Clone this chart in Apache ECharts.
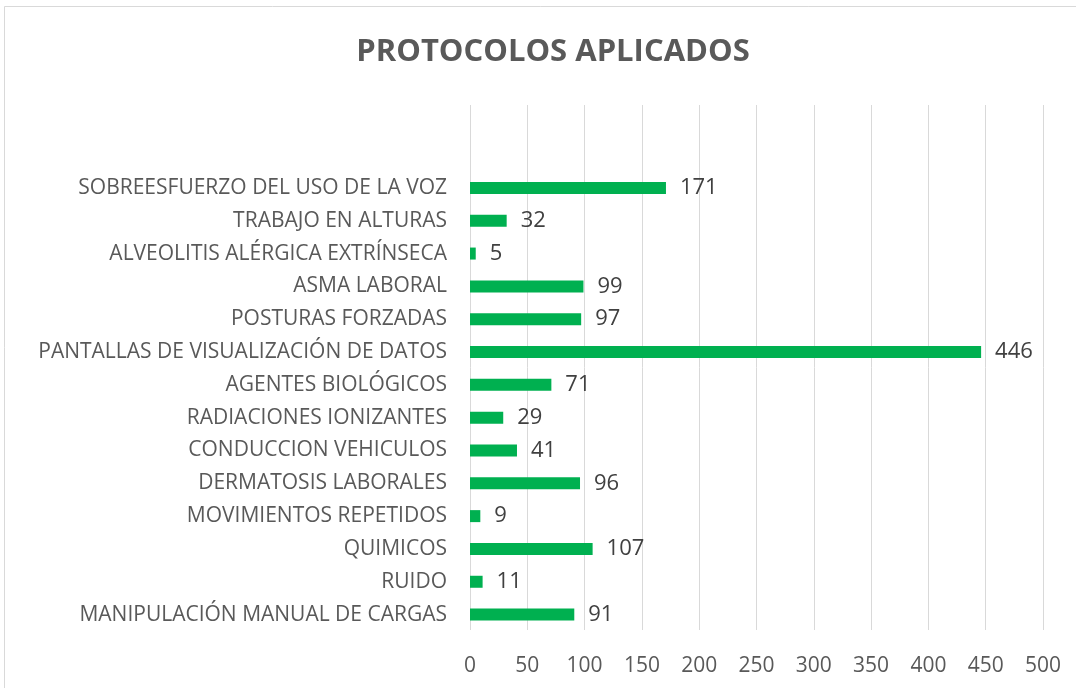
<!DOCTYPE html>
<html>
<head>
<meta charset="utf-8">
<title>Protocolos aplicados</title>
<script src="https://cdn.jsdelivr.net/npm/echarts@6/dist/echarts.min.js"></script>
<style>
  html, body { margin: 0; padding: 0; background: #fff; }
  #chart { width: 1076px; height: 688px; }
</style>
</head>
<body>
<div id="chart"></div>
<script>
// categories listed bottom -> top, as the category axis draws them
var categories = [
  'MANIPULACIÓN MANUAL DE CARGAS',
  'RUIDO',
  'QUIMICOS',
  'MOVIMIENTOS REPETIDOS',
  'DERMATOSIS LABORALES',
  'CONDUCCION VEHICULOS',
  'RADIACIONES IONIZANTES',
  'AGENTES BIOLÓGICOS',
  'PANTALLAS DE VISUALIZACIÓN DE DATOS',
  'POSTURAS FORZADAS',
  'ASMA LABORAL',
  'ALVEOLITIS ALÉRGICA EXTRÍNSECA',
  'TRABAJO EN ALTURAS',
  'SOBREESFUERZO DEL USO DE LA VOZ'
];
var protocolos = [91, 11, 107, 9, 96, 41, 29, 71, 446, 97, 99, 5, 32, 171];
var xMin = 0, xMax = 500, xStep = 50;

var font = '"Open Sans", sans-serif';
var textGray = '#595959';

var chart = echarts.init(document.getElementById('chart'), null, { renderer: 'canvas' });

var option = {
  animation: false,
  backgroundColor: '#fff',
  title: {
    text: 'PROTOCOLOS APLICADOS',
    left: 548, textAlign: 'center',
    top: 32,
    textStyle: { fontFamily: font, fontSize: 31, fontWeight: 'bold', color: textGray }
  },
  graphic: [{
    type: 'rect',
    shape: { x: 4.5, y: 6.5, width: 1100, height: 700 },
    style: { fill: 'none', stroke: '#d9d9d9', lineWidth: 1 },
    silent: true
  }],
  grid: [
    // grid 0: gridlines and tick labels over the whole plot area
    { left: 470, right: 33, top: 105, bottom: 58 },
    // grid 1: the bars (plot area less two empty bands at the top)
    { left: 470, right: 33, top: 171.5, bottom: 57 }
  ],
  xAxis: [{
    gridIndex: 0,
    type: 'value',
    min: xMin, max: xMax, interval: xStep,
    axisLine: { show: false },
    axisTick: { show: false },
    splitLine: { lineStyle: { color: '#d9d9d9', width: 1 } },
    axisLabel: { margin: 26, fontFamily: font, fontSize: 21, color: textGray }
  }, {
    gridIndex: 1,
    type: 'value',
    min: xMin, max: xMax,
    show: false
  }],
  yAxis: [{
    gridIndex: 0,
    type: 'value',
    show: false
  }, {
    gridIndex: 1,
    type: 'category',
    data: categories,
    axisLine: { show: false },
    axisTick: { show: false },
    axisLabel: { margin: 23, fontFamily: font, fontSize: 21, color: textGray }
  }],
  series: [{
    type: 'bar',
    xAxisIndex: 1,
    yAxisIndex: 1,
    data: protocolos,
    barWidth: 12,
    itemStyle: { color: '#00b050' },
    label: {
      show: true,
      position: 'right',
      distance: 14,
      fontFamily: font,
      fontSize: 22,
      color: '#404040'
    }
  }]
};

chart.setOption(option);
</script>
</body>
</html>
